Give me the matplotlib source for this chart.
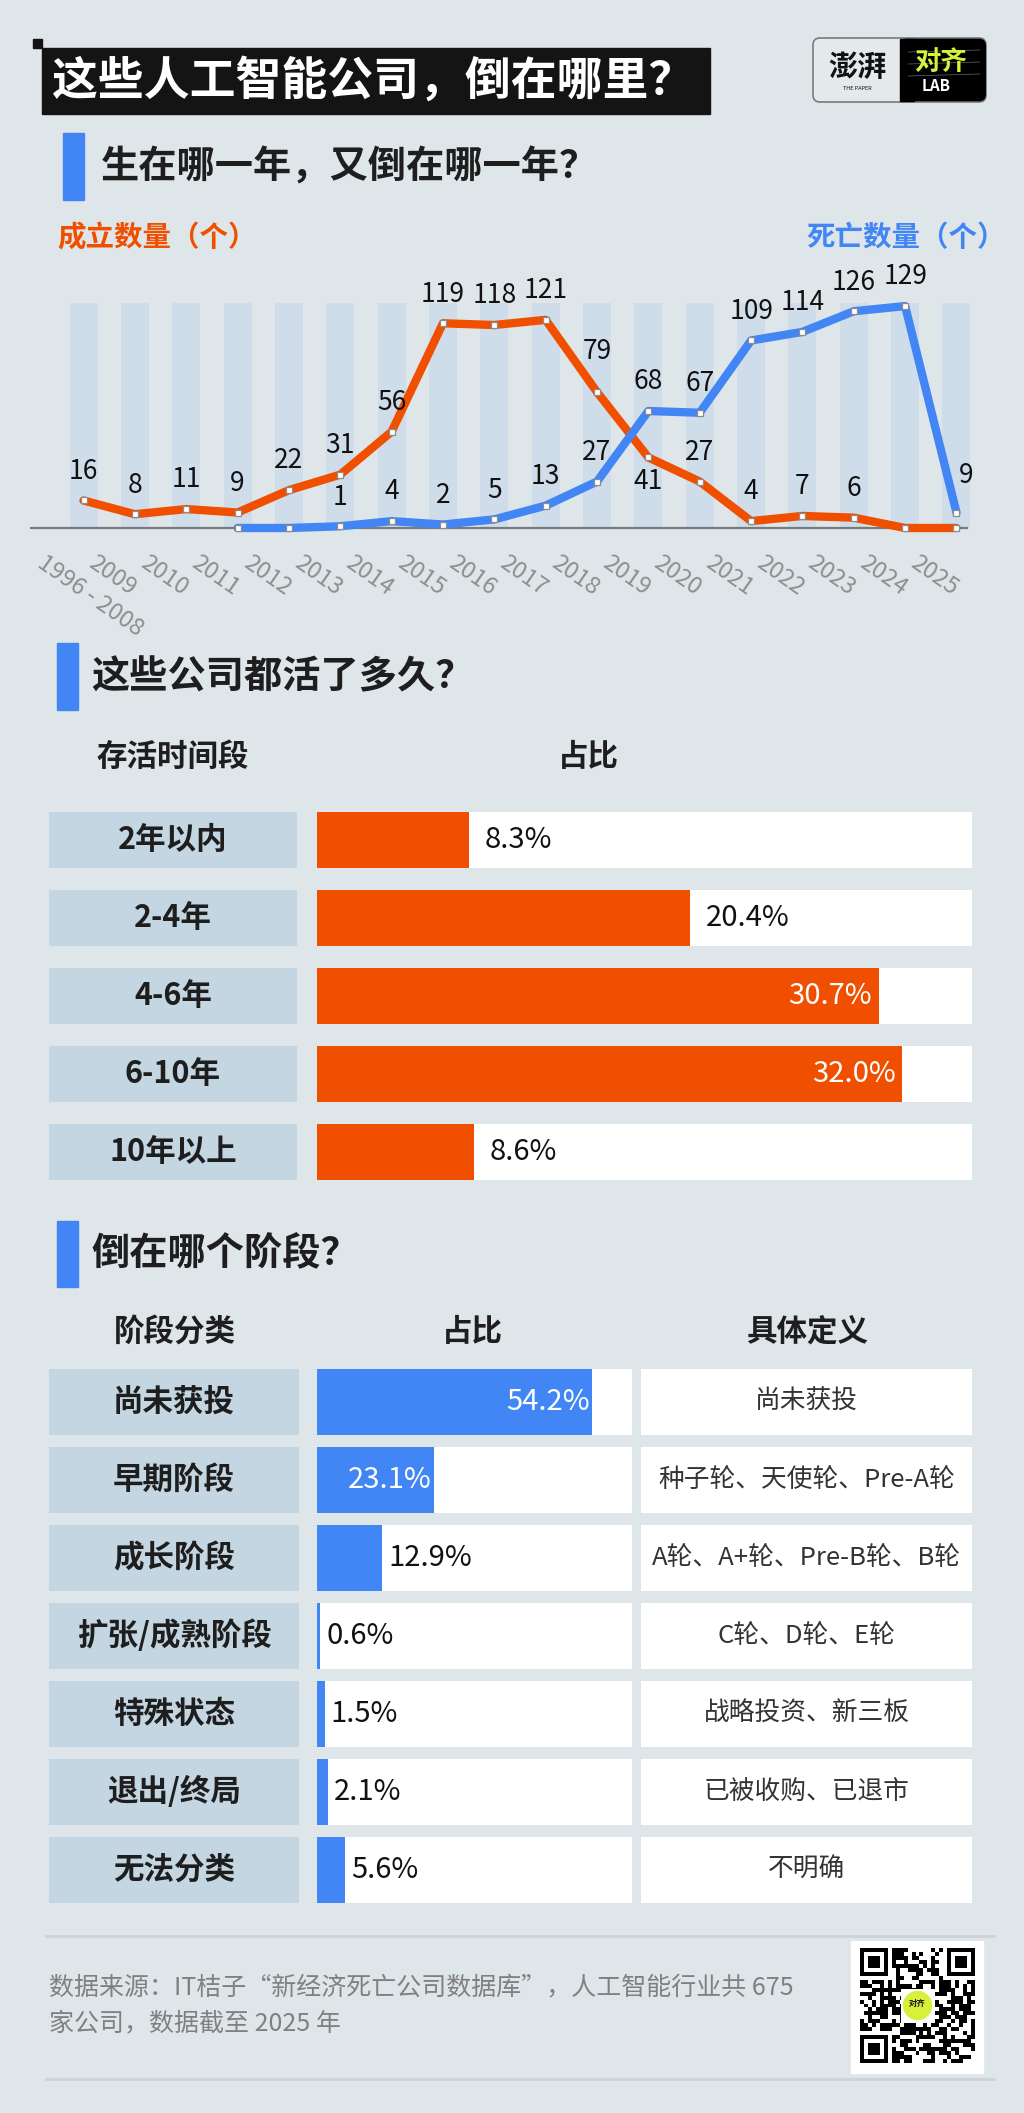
import matplotlib
matplotlib.use('Agg')
import matplotlib.pyplot as plt
from matplotlib.patches import Rectangle, FancyBboxPatch, Circle
import numpy as np

plt.rcParams['font.family'] = ['Noto Sans CJK SC', 'DejaVu Sans']

# ---- data ----
years = ['1996 - 2008', '2009', '2010', '2011', '2012', '2013', '2014', '2015', '2016',
         '2017', '2018', '2019', '2020', '2021', '2022', '2023', '2024', '2025']
founded = [16, 8, 11, 9, 22, 31, 56, 119, 118, 121, 79, 41, 27, 4, 7, 6, 0, 0]
closed = [np.nan, np.nan, np.nan, 0, 0, 1, 4, 2, 5, 13, 27, 68, 67, 109, 114, 126, 129, 9]

survival_labels = ['2年以内', '2-4年', '4-6年', '6-10年', '10年以上']
survival_share = [8.3, 20.4, 30.7, 32.0, 8.6]

stage_labels = ['尚未获投', '早期阶段', '成长阶段', '扩张/成熟阶段', '特殊状态', '退出/终局', '无法分类']
stage_share = [54.2, 23.1, 12.9, 0.6, 1.5, 2.1, 5.6]
stage_defs = ['尚未获投', '种子轮、天使轮、Pre-A轮', 'A轮、A+轮、Pre-B轮、B轮', 'C轮、D轮、E轮',
              '战略投资、新三板', '已被收购、已退市', '不明确']

ORANGE = '#f04f00'
BLUE = '#4285f4'
BG = '#dfe6ea'
CELL = '#c3d6e2'
INK = '#1e1e1e'

W, H = 1024, 2113
fig = plt.figure(figsize=(W / 100, H / 100), dpi=100, facecolor=BG)


def px_axes(x0, y0, x1, y1, z=2):
    ax = fig.add_axes([x0 / W, 1 - y1 / H, (x1 - x0) / W, (y1 - y0) / H], zorder=z)
    ax.set_axis_off()
    return ax


bg = px_axes(0, 0, W, H, z=0)
bg.set_xlim(0, W)
bg.set_ylim(H, 0)

# ---- title ----
bg.add_patch(Rectangle((33, 39), 9, 9, color='#141414'))
bg.add_patch(Rectangle((42, 48), 668, 66, color='#141414'))
bg.text(52, 82, '这些人工智能公司，倒在哪里？', color='white', fontsize=33,
        fontweight='bold', va='center')

# logo
bg.add_patch(FancyBboxPatch((813, 38), 173, 64, boxstyle='round,pad=0,rounding_size=7',
                            fc='#e4e9ec', ec='#7a7a7a', lw=1.2))
bg.add_patch(FancyBboxPatch((900, 38.6), 86, 62.8, boxstyle='round,pad=0,rounding_size=7',
                            fc='black', ec='none'))
bg.add_patch(Rectangle((900, 38.6), 14, 62.8, color='black'))
bg.text(857, 67, '澎湃', fontsize=21, fontweight='heavy', ha='center', va='center', color='#111')
bg.text(857, 89, 'THE PAPER', fontsize=4, ha='center', va='center', color='#111')
for yy in (52, 64, 76):
    bg.plot([908, 980], [yy, yy - 2], color='#666', lw=0.5)
bg.text(941, 62, '对齐', fontsize=19, fontweight='bold', ha='center', va='center', color='#d6f23a')
bg.text(936, 86, 'LAB', fontsize=11, fontweight='bold', ha='center', va='center', color='white')


def heading(xb, y0, y1, xt, text):
    bg.add_patch(Rectangle((xb, y0), 21, y1 - y0, color=BLUE))
    bg.text(xt, (y0 + y1) / 2, text, fontsize=27.5, fontweight='bold', color=INK, va='center')


# ---- section 1: line chart ----
heading(63, 133, 200, 101, '生在哪一年，又倒在哪一年？')
bg.text(57, 238, '成立数量（个）', color=ORANGE, fontsize=20.5, fontweight='bold', va='center')
bg.text(1006, 238, '死亡数量（个）', color=BLUE, fontsize=20.5, fontweight='bold', va='center', ha='right')

ax1 = px_axes(30, 250, 990, 540)
ax1.set_xlim(-1.042, 17.653)
ax1.set_ylim(-6.98, 161.6)
x = np.arange(len(years))
ax1.bar(x, 131, width=0.545, color='#cfdcea', zorder=0)
ax1.axhline(0, xmin=0.001, xmax=0.976, color='#7a7a7a', lw=1.6, zorder=1)
mk = dict(marker='s', ms=5, mfc='white', mec='#8c8c8c', mew=0.9)
ax1.plot(x, founded, color=ORANGE, lw=6, solid_joinstyle='round', solid_capstyle='round', zorder=3, **mk)
ax1.plot(x, closed, color=BLUE, lw=6, solid_joinstyle='round', solid_capstyle='round', zorder=4, **mk)

for i, v in enumerate(founded):
    if v > 0:
        dy = 21
        if years[i] == '2019':
            dy = -17
        elif years[i] == '2018':
            dy = 29
        ax1.annotate(str(v), (x[i], v), xytext=(0, dy), textcoords='offset points',
                     ha='center', va='center', fontsize=19, color='#111', zorder=5)
for i, v in enumerate(closed):
    if v > 0:
        dx, dy = (7, 27) if years[i] == '2025' else (0, 21)
        ax1.annotate(str(v), (x[i], v), xytext=(dx, dy), textcoords='offset points',
                     ha='center', va='center', fontsize=19, color='#111', zorder=5)

for i, lab in enumerate(years):
    ax1.text(x[i] - 0.72, -13.5, lab, rotation=-35, rotation_mode='anchor', ha='left', va='top',
             fontsize=17, color='#8e8e8e', fontweight='light', clip_on=False)

# ---- section 2: survival ----
heading(57, 643, 710, 91, '这些公司都活了多久？')
bg.text(173, 757, '存活时间段', fontsize=22, fontweight='bold', color=INK, ha='center', va='center')
bg.text(588, 757, '占比', fontsize=22, fontweight='bold', color=INK, ha='center', va='center')

n2 = len(survival_labels)
y2 = np.arange(n2)
h2 = 56 / 78
lab2 = px_axes(49, 801, 297, 801 + 78 * n2)
lab2.set_xlim(0, 1)
lab2.set_ylim(n2 - 0.5, -0.5)
lab2.barh(y2, 1, height=h2, color=CELL)
for i, t in enumerate(survival_labels):
    lab2.text(0.5, i, t, ha='center', va='center', fontsize=22, fontweight='bold', color=INK)

s_max = 35.8
val2 = px_axes(317, 801, 972, 801 + 78 * n2)
val2.set_xlim(0, s_max)
val2.set_ylim(n2 - 0.5, -0.5)
val2.barh(y2, s_max, height=h2, color='white')
val2.barh(y2, survival_share, height=h2, color=ORANGE)
for i, v in enumerate(survival_share):
    if v >= 30:
        val2.annotate(f'{v:.1f}%', (v, i), xytext=(-5, 0), textcoords='offset points',
                      ha='right', va='center', fontsize=21, color='white')
    else:
        val2.annotate(f'{v:.1f}%', (v, i), xytext=(11, 0), textcoords='offset points',
                      ha='left', va='center', fontsize=21, color='#111')

# ---- section 3: stage ----
heading(57, 1221, 1287, 91, '倒在哪个阶段？')
bg.text(175, 1332, '阶段分类', fontsize=22, fontweight='bold', color=INK, ha='center', va='center')
bg.text(472, 1332, '占比', fontsize=22, fontweight='bold', color=INK, ha='center', va='center')
bg.text(807, 1332, '具体定义', fontsize=22, fontweight='bold', color=INK, ha='center', va='center')

n3 = len(stage_labels)
y3 = np.arange(n3)
h3 = 66 / 78
top3 = 1363
lab3 = px_axes(49, top3, 299, top3 + 78 * n3)
lab3.set_xlim(0, 1)
lab3.set_ylim(n3 - 0.5, -0.5)
lab3.barh(y3, 1, height=h3, color=CELL)
for i, t in enumerate(stage_labels):
    lab3.text(0.5, i, t, ha='center', va='center', fontsize=22, fontweight='bold', color=INK)

p_max = 62.1
val3 = px_axes(317, top3, 632, top3 + 78 * n3)
val3.set_xlim(0, p_max)
val3.set_ylim(n3 - 0.5, -0.5)
val3.barh(y3, p_max, height=h3, color='white')
val3.barh(y3, stage_share, height=h3, color=BLUE)
for i, v in enumerate(stage_share):
    if v >= 20:
        val3.annotate(f'{v:.1f}%', (v, i), xytext=(-1.5, 0), textcoords='offset points',
                      ha='right', va='center', fontsize=21, color='white')
    else:
        val3.annotate(f'{v:.1f}%', (v, i), xytext=(4.5, 0), textcoords='offset points',
                      ha='left', va='center', fontsize=21, color='#111')

def3 = px_axes(641, top3, 972, top3 + 78 * n3)
def3.set_xlim(0, 1)
def3.set_ylim(n3 - 0.5, -0.5)
def3.barh(y3, 1, height=h3, color='white')
for i, t in enumerate(stage_defs):
    def3.text(0.5, i, t, ha='center', va='center', fontsize=18.5, color='#333')

# ---- footer ----
bg.plot([46, 994], [1936, 1936], color='#cdd4d9', lw=2)
bg.plot([46, 994], [2079, 2079], color='#cdd4d9', lw=2)
bg.text(49, 1987, '数据来源：IT桔子“新经济死亡公司数据库”，人工智能行业共 675',
        fontsize=18, color='#808080', va='center')
bg.text(49, 2023, '家公司，数据截至 2025 年', fontsize=18, color='#808080', va='center')

# QR code (decorative only)
bg.add_patch(Rectangle((851, 1941), 132, 132, color='white'))
m = 29
cell = 115 / m
qx, qy = 860, 1948
for r in range(m):
    for c in range(m):
        in_finder = (r < 8 and c < 8) or (r < 8 and c >= m - 8) or (r >= m - 8 and c < 8)
        if in_finder:
            continue
        if ((r * 31 + c * 17) ^ (r * c + 5)) % 7 < 4:
            bg.add_patch(Rectangle((qx + c * cell, qy + r * cell), cell, cell, color='black', lw=0))
for (r0, c0) in [(0, 0), (0, m - 7), (m - 7, 0)]:
    bg.add_patch(Rectangle((qx + c0 * cell, qy + r0 * cell), 7 * cell, 7 * cell, color='black', lw=0))
    bg.add_patch(Rectangle((qx + (c0 + 1) * cell, qy + (r0 + 1) * cell), 5 * cell, 5 * cell, color='white', lw=0))
    bg.add_patch(Rectangle((qx + (c0 + 2) * cell, qy + (r0 + 2) * cell), 3 * cell, 3 * cell, color='black', lw=0))
bg.add_patch(Rectangle((qx + 115 / 2 - 17, qy + 115 / 2 - 17), 34, 34, color='white', lw=0))
bg.add_patch(Circle((qx + 115 / 2, qy + 115 / 2), 14, color='#d8f03c'))
bg.text(qx + 115 / 2, qy + 115 / 2 - 2, '对齐', fontsize=6, fontweight='bold', ha='center', va='center', color='#111')

fig.savefig('out.png', dpi=100, facecolor=BG)
